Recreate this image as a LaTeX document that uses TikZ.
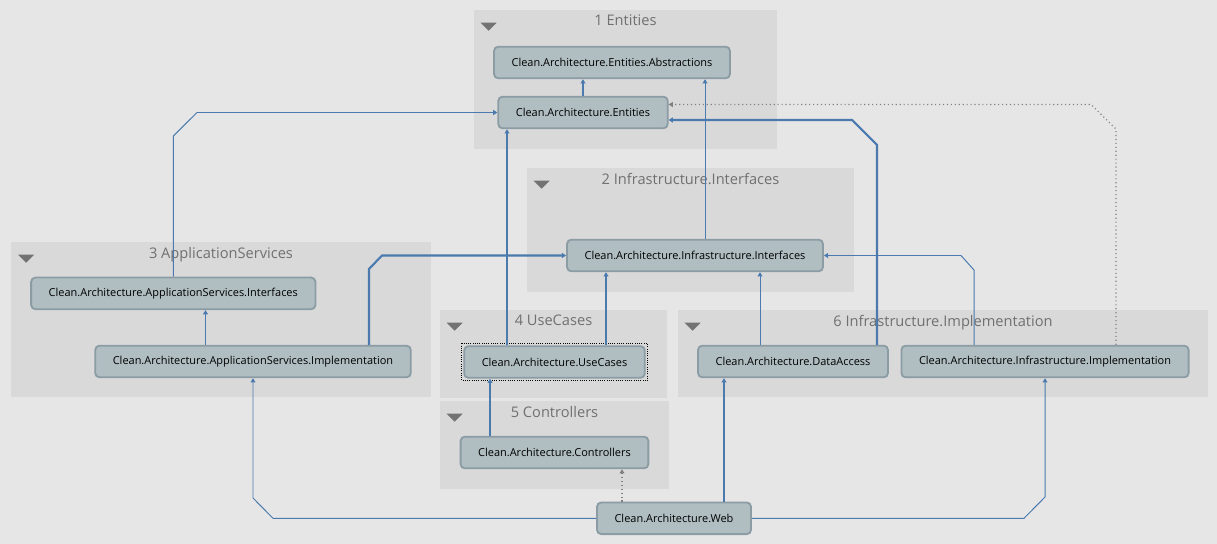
\documentclass[tikz,border=0pt]{standalone}
\usepackage{fontspec}
\setmainfont{Open Sans}
\usetikzlibrary{positioning,arrows.meta}

\definecolor{bgGray}{RGB}{230,230,230}
\definecolor{grpGray}{RGB}{217,217,217}
\definecolor{pkgFill}{RGB}{176,190,194}
\definecolor{pkgLine}{RGB}{140,156,164}
\definecolor{depBlue}{RGB}{74,122,174}
\definecolor{ttlGray}{RGB}{112,112,112}

\begin{document}
\begin{tikzpicture}[x=0.025cm, y=-0.025cm,
  pkg/.style={draw=pkgLine, line width=1.3pt, fill=pkgFill, rounded corners=3pt, minimum height=22.5pt, inner xsep=12.5pt, font=\fontsize{7.8}{9}\selectfont},
  grp/.style={fill=grpGray, inner sep=0pt},
  grptitle/.style={text=ttlGray, font=\fontsize{10.4}{12}\selectfont, inner sep=2pt},
  tri/.style={fill=black!55},
  dep/.style={draw=depBlue, line width=0.7pt, -{Triangle[length=3pt,width=3.5pt]}},
  depThick/.style={dep, line width=1.5pt},
  depDotted/.style={draw=black!50, line width=0.8pt, dotted, -{Triangle[length=3pt,width=3.5pt]}}]

\useasboundingbox (0,0) rectangle (1217,544);
\fill[bgGray] (0,0) rectangle (1217,544);

% Groups
\node (grpEntities) [grp, minimum width=7.575cm, minimum height=3.475cm] at (625.5,79.5) {};
\node (grpInfInt) [grp, minimum width=8.175cm, minimum height=3.1cm] at (690.5,230) {};
\node (grpApp) [grp, minimum width=10.475cm, minimum height=3.875cm] at (221,319.5) {};
\node (grpUseCases) [grp, minimum width=5.675cm, minimum height=2.2cm] at (553.5,354) {};
\node (grpCtrl) [grp, minimum width=5.725cm, minimum height=2.2cm] at (554.5,445) {};
\node (grpInfImpl) [grp, minimum width=13.25cm, minimum height=2.175cm] at (943,353.5) {};

\node (ttlEntities) [grptitle, below=1.5pt of grpEntities.north] {1 Entities};
\node (ttlInfInt) [grptitle, below=1.5pt of grpInfInt.north] {2 Infrastructure.Interfaces};
\node (ttlApp) [grptitle, below=1.5pt of grpApp.north] {3 ApplicationServices};
\node (ttlUseCases) [grptitle, below=1.5pt of grpUseCases.north] {4 UseCases};
\node (ttlCtrl) [grptitle, below=1.5pt of grpCtrl.north] {5 Controllers};
\node (ttlInfImpl) [grptitle, below=1.5pt of grpInfImpl.north] {6 Infrastructure.Implementation};

\foreach \g in {grpEntities,grpInfInt,grpApp,grpUseCases,grpCtrl,grpInfImpl}
  \fill[tri] ([shift={(7,13)}]\g.north west) -- ++(16,0) -- ++(-8,8) -- cycle;

% Nodes
\node (entAbs) [pkg] at (612,62.5) {Clean.Architecture.Entities.Abstractions};
\node (entities) [pkg] at (583,112.5) {Clean.Architecture.Entities};
\node (infInterfaces) [pkg] at (695,255.5) {Clean.Architecture.Infrastructure.Interfaces};
\node (appInterfaces) [pkg] at (173.3,293.4) {Clean.Architecture.ApplicationServices.Interfaces};
\node (appImpl) [pkg] at (253,361.5) {Clean.Architecture.ApplicationServices.Implementation};
\node (useCases) [pkg] at (554.5,362) {Clean.Architecture.UseCases};
\node (controllers) [pkg] at (554.5,452.5) {Clean.Architecture.Controllers};
\node (dataAccess) [pkg] at (793,361.5) {Clean.Architecture.DataAccess};
\node (infImpl) [pkg] at (1045,361.5) {Clean.Architecture.Infrastructure.Implementation};
\node (web) [pkg] at (674,518.3) {Clean.Architecture.Web};

\draw[black, line width=0.6pt, densely dotted] ([shift={(-1.5,-2)}]useCases.north west) rectangle ([shift={(1.5,2)}]useCases.south east);

% Arrows
\draw[depThick] (entities.north) -- (entities.north |- entAbs.south);
\draw[dep] (infInterfaces.north -| 705,0) -- (entAbs.south -| 705,0);
\draw[dep] (appInterfaces.north) -- (173.3,136) -- (197,112.5) -- (entities.west);
\draw[depThick] (useCases.north -| 507,0) -- (entities.south -| 507,0);
\draw[depThick] (useCases.north -| 606,0) -- (infInterfaces.south -| 606,0);
\draw[depThick] (appImpl.north -| 369,0) -- (369,269) -- (382,255.5) -- (infInterfaces.west);
\draw[dep] (dataAccess.north -| 760,0) -- (infInterfaces.south -| 760,0);
\draw[dep] (infImpl.north -| 974,0) -- (974,270) -- (961,255.5) -- (infInterfaces.east);
\draw[depThick] (dataAccess.north -| 877,0) -- (877,145) -- (852,120) -- (entities.east |- 0,120);
\draw[depDotted] (infImpl.north -| 1116,0) -- (1116,129) -- (1091,104.5) -- (entities.east |- 0,104.5);
\draw[dep] (appImpl.north -| 205.5,0) -- (appInterfaces.south -| 205.5,0);
\draw[depThick] (controllers.north -| 490,0) -- (useCases.south -| 490,0);
\draw[depDotted] (web.north -| 622,0) -- (controllers.south -| 622,0);
\draw[depThick] (web.north -| 724,0) -- (dataAccess.south -| 724,0);
\draw[dep] (web.west) -- (273,518.3) -- (253,498) -- (appImpl.south);
\draw[dep] (web.east) -- (1024,518.3) -- (1045,497) -- (infImpl.south);

\end{tikzpicture}
\end{document}
